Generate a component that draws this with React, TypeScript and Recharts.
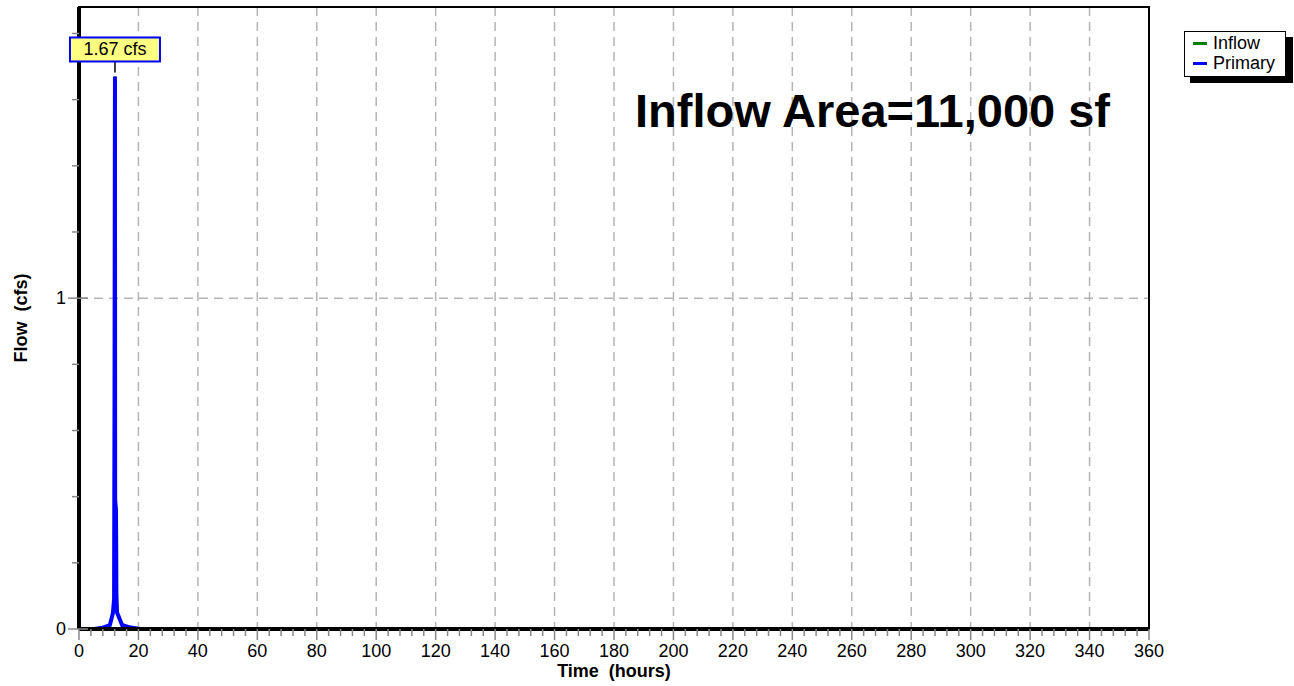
import React from "react";
import {
  LineChart,
  Line,
  XAxis,
  YAxis,
  CartesianGrid,
  ReferenceArea,
  ReferenceDot,
} from "recharts";

// hydrograph samples (hours, cfs)
const timeHours = [0, 5, 8, 10.4, 11.4, 11.8, 11.95, 12.05, 12.1, 12.17, 12.45, 12.6, 12.8, 14.5, 17, 20.5, 24, 360];
const inflowCfs = [0, 0, 0.004, 0.012, 0.048, 0.09, 0.7, 1.4, 1.67, 0.39, 0.36, 0.1, 0.05, 0.012, 0.005, 0, 0, 0];
const primaryCfs = [0, 0, 0.004, 0.012, 0.048, 0.09, 0.7, 1.4, 1.67, 0.39, 0.36, 0.1, 0.05, 0.012, 0.005, 0, 0, 0];

const xTicks = Array.from({ length: 91 }, (_, i) => i * 4);
const yTicks = [0, 0.2, 0.4, 0.6, 0.8, 1, 1.2, 1.4, 1.6, 1.8];
const gridX = [20, 40, 60, 80, 100, 120, 140, 160, 180, 200, 220, 240, 260, 280, 300, 320, 340, 360];
const gridY = [0, 1];

const peakTime = 12.1;
const peakFlow = 1.67;

const FONT = "Arial, 'Liberation Sans', sans-serif";

const data = timeHours.map((t, i) => ({ t, inflow: inflowCfs[i], primary: primaryCfs[i] }));

const XTick = (props: any) => {
  const { x, y, payload } = props;
  const v = payload.value;
  const major = v % 20 === 0;
  return (
    <g>
      <line x1={x} x2={x} y1={y} y2={y + (major ? 11 : 7)} stroke="#888" strokeWidth={1.5} />
      {major && (
        <text x={x} y={y + 28} textAnchor="middle" fontSize={18} fontFamily={FONT} fill="#000">
          {v}
        </text>
      )}
    </g>
  );
};

const YTick = (props: any) => {
  const { x, y, payload } = props;
  const v = payload.value;
  const major = v === 0 || v === 1;
  return (
    <g>
      <line x1={x - (major ? 11 : 7)} x2={x + (major ? 9 : 0)} y1={y} y2={y} stroke="#888" strokeWidth={1.5} />
      {major && (
        <text x={x - 13} y={y + 6} textAnchor="end" fontSize={18} fontFamily={FONT} fill="#000">
          {v}
        </text>
      )}
    </g>
  );
};

const PeakLabel = (props: any) => {
  const { cx, cy } = props;
  return (
    <g>
      <line x1={cx} x2={cx} y1={cy - 4} y2={cy - 15} stroke="#000" strokeWidth={1.5} />
      <rect x={cx - 45} y={cy - 39} width={90} height={24} fill="#ffff80" stroke="#0000ff" strokeWidth={2} />
      <text x={cx} y={cy - 21} textAnchor="middle" fontSize={18} fontFamily={FONT} fill="#000">
        {peakFlow} cfs
      </text>
    </g>
  );
};

const legendItems = [
  { name: "Inflow", color: "#008000" },
  { name: "Primary", color: "#0000ff" },
];

const LegendBox = () => (
  <div style={{ position: "absolute", left: 1184, top: 31, width: 110, height: 54, fontFamily: FONT, fontSize: 18 }}>
    <div style={{ position: "absolute", left: 6, top: 6, width: 103, height: 46, background: "#000" }} />
    <div
      style={{
        position: "absolute",
        left: 0,
        top: 0,
        width: 100,
        height: 43,
        background: "#fff",
        border: "1.5px solid #000",
        lineHeight: "20px",
        paddingTop: 1,
        boxSizing: "content-box",
      }}
    >
      {legendItems.map((it) => (
        <div key={it.name} style={{ display: "flex", alignItems: "center", paddingLeft: 8 }}>
          <span style={{ display: "inline-block", width: 14, height: 3, background: it.color, marginRight: 6 }} />
          <span>{it.name}</span>
        </div>
      ))}
    </div>
  </div>
);

export default function App() {
  return (
    <div style={{ position: "absolute", left: 0, top: 0, width: 1294, height: 686, background: "#fff" }}>
      <LineChart width={1294} height={686} data={data} margin={{ top: 7, right: 145, bottom: 0, left: 0 }}>
        <CartesianGrid
          horizontal
          vertical
          horizontalValues={gridY}
          verticalValues={gridX}
          stroke="#b4b4b4"
          strokeWidth={1.5}
          strokeDasharray="9 6"
        />
        <ReferenceArea x1={0} x2={360} y1={0} y2={1.88} fill="none" stroke="#000" strokeWidth={2} />
        <XAxis
          type="number"
          dataKey="t"
          domain={[0, 360]}
          ticks={xTicks}
          interval={0}
          height={57}
          tickSize={0}
          tickMargin={0}
          tickLine={false}
          tick={<XTick />}
          axisLine={{ stroke: "#000", strokeWidth: 4 }}
          allowDataOverflow
        />
        <YAxis
          type="number"
          domain={[0, 1.88]}
          ticks={yTicks}
          interval={0}
          width={79}
          tickSize={0}
          tickMargin={0}
          tickLine={false}
          tick={<YTick />}
          axisLine={{ stroke: "#000", strokeWidth: 4 }}
          allowDataOverflow
        />
        <Line type="linear" dataKey="inflow" name="Inflow" stroke="#008000" strokeWidth={2} dot={false} isAnimationActive={false} />
        <Line type="linear" dataKey="primary" name="Primary" stroke="#0000ff" strokeWidth={4} dot={false} isAnimationActive={false} />
        <ReferenceDot x={peakTime} y={peakFlow} shape={<PeakLabel />} />
      </LineChart>
      <LegendBox />
      <svg
        width={1294}
        height={686}
        style={{ position: "absolute", left: 0, top: 0, pointerEvents: "none" }}
      >
        <text x={635} y={127} fontSize={47} fontWeight="bold" fontFamily={FONT} fill="#000">
          Inflow Area=11,000 sf
        </text>
        <text
          x={614}
          y={677}
          textAnchor="middle"
          fontSize={18}
          fontWeight="bold"
          fontFamily={FONT}
          fill="#000"
          style={{ whiteSpace: "pre" }}
        >
          {"Time  (hours)"}
        </text>
        <text
          x={27}
          y={318}
          transform="rotate(-90 27 318)"
          textAnchor="middle"
          fontSize={18}
          fontWeight="bold"
          fontFamily={FONT}
          fill="#000"
          style={{ whiteSpace: "pre" }}
        >
          {"Flow  (cfs)"}
        </text>
      </svg>
    </div>
  );
}
